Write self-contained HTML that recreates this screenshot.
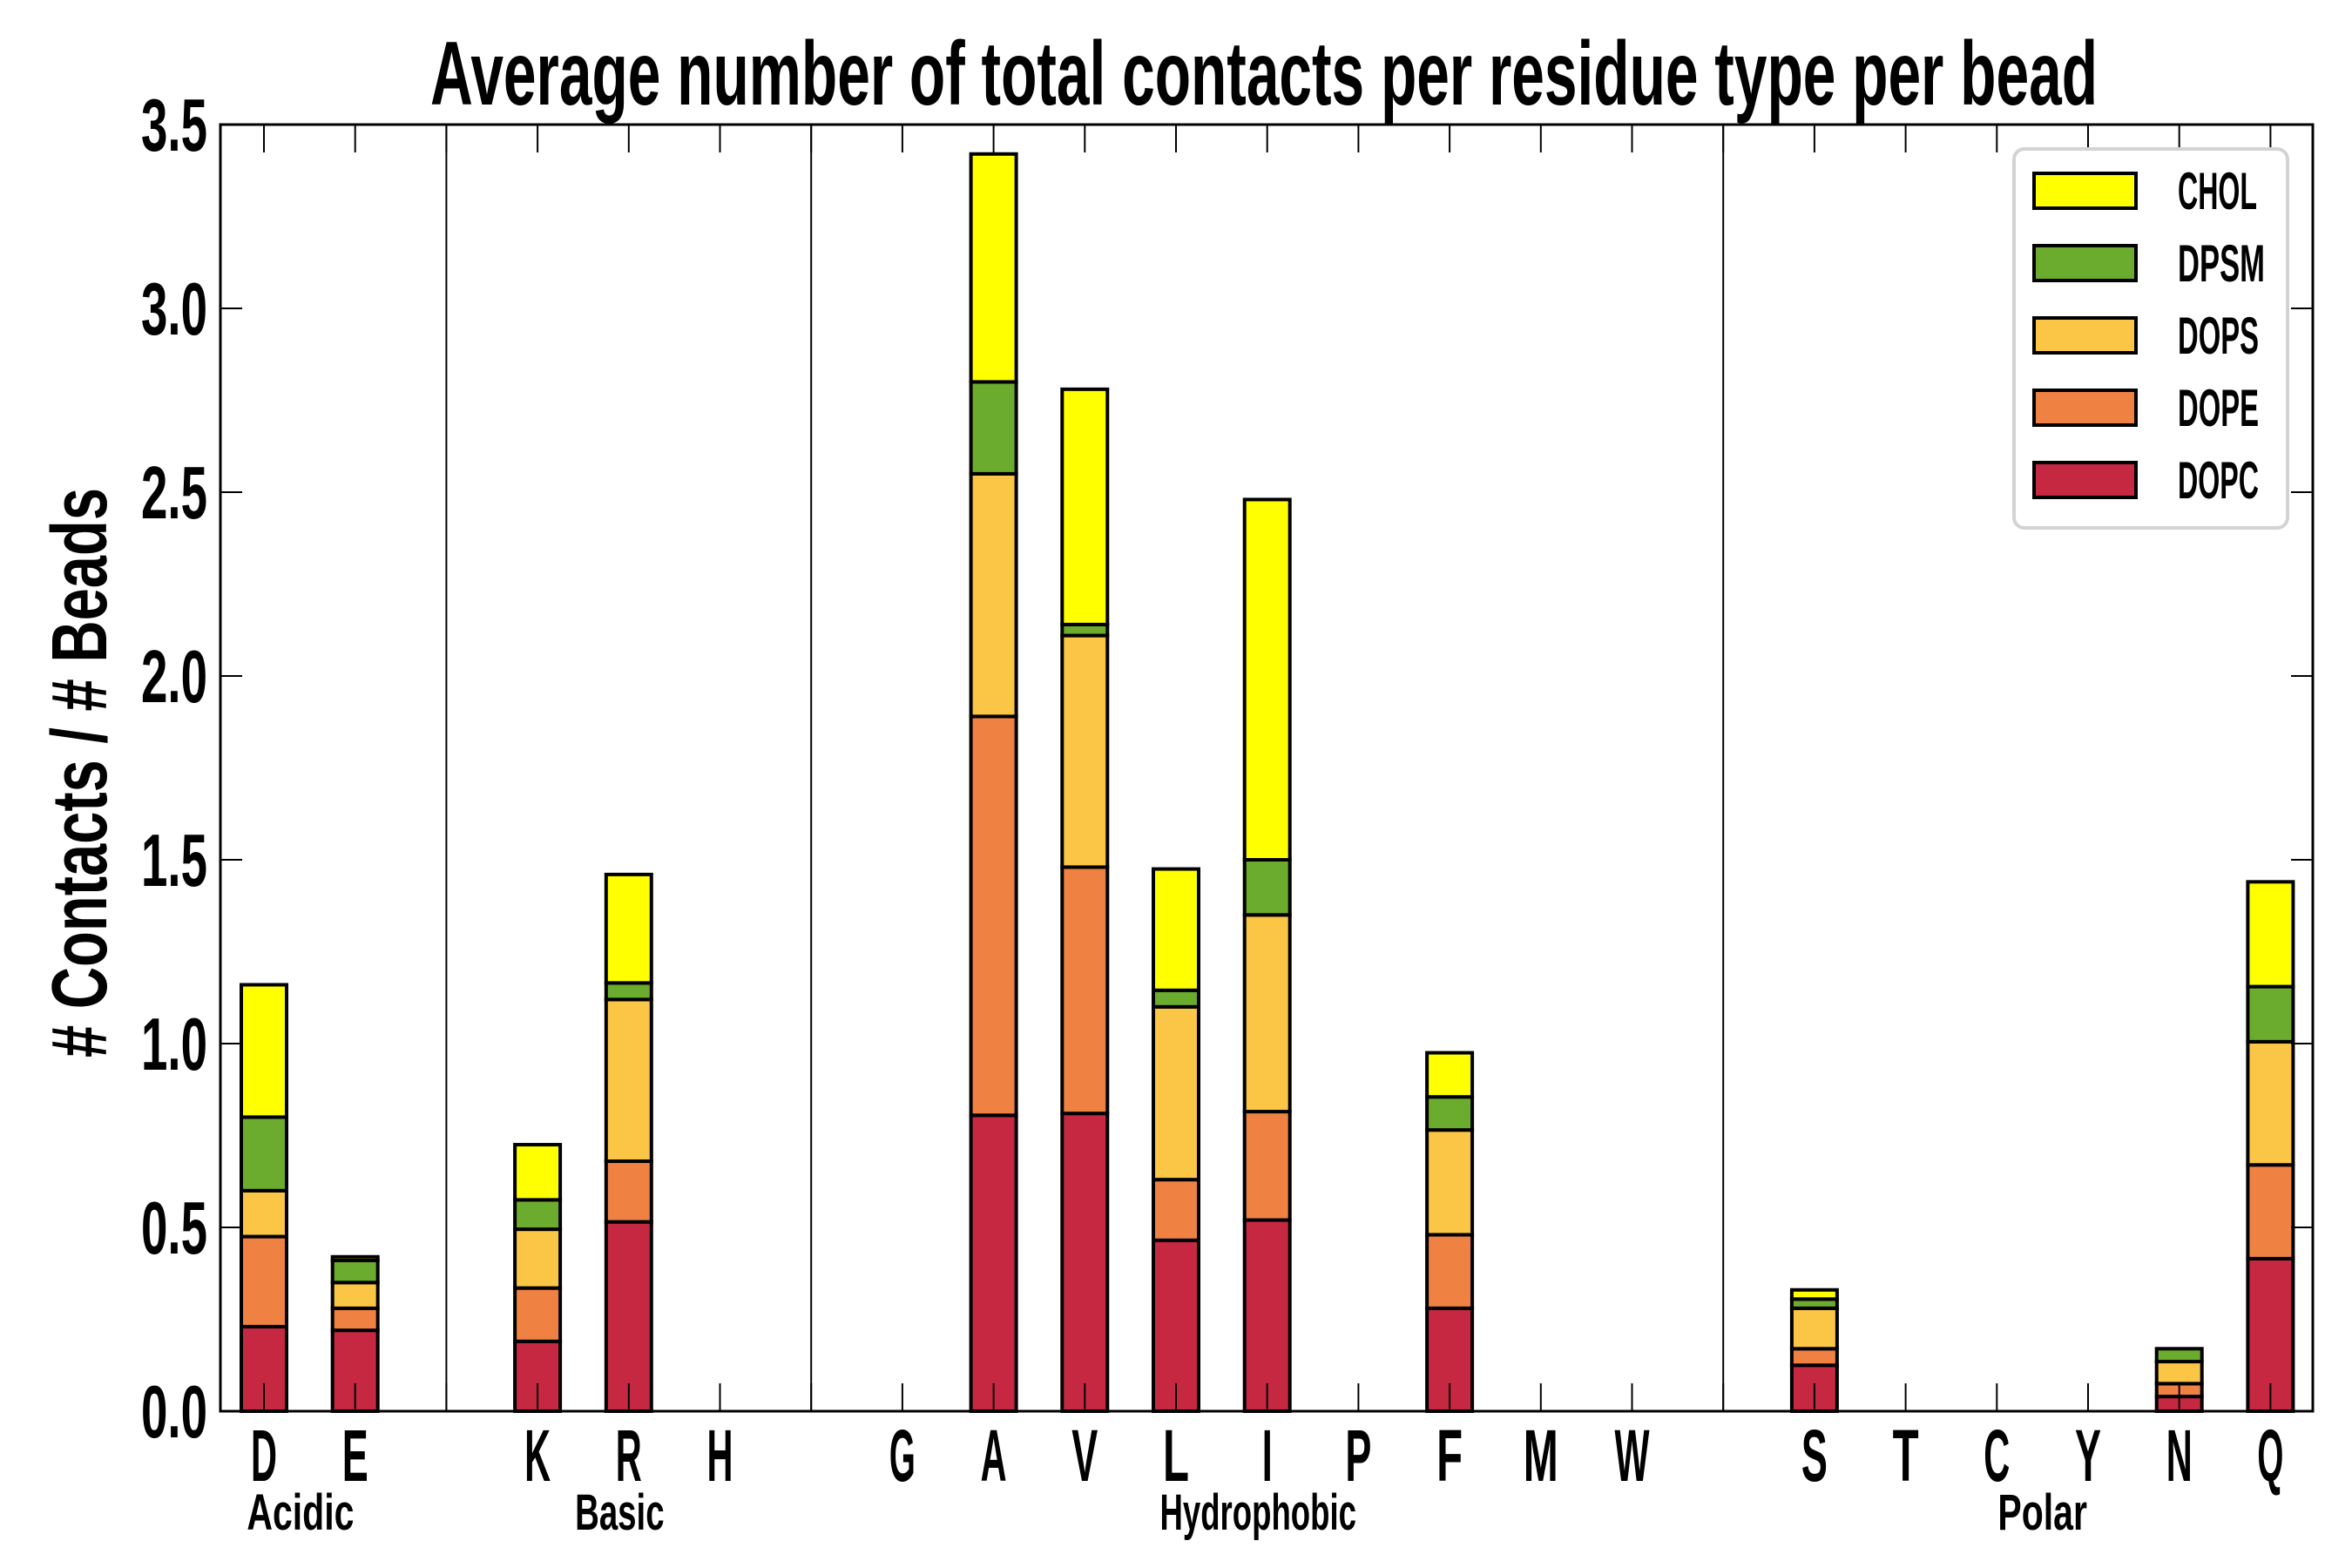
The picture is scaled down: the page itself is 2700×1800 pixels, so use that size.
<!DOCTYPE html>
<html><head><meta charset="utf-8"><style>
html,body{margin:0;padding:0;background:#fff;}
svg{display:block;font-family:"Liberation Sans",sans-serif;font-weight:bold;}
</style></head><body>
<svg id="chart" width="2700" height="1800" viewBox="0 0 2700 1800" xmlns="http://www.w3.org/2000/svg">
<text x="1451" y="120" text-anchor="middle" font-size="104" textLength="1914" lengthAdjust="spacingAndGlyphs">Average number of total contacts per residue type per bead</text>
<text transform="translate(122,887) rotate(-90)" text-anchor="middle" font-size="90" textLength="654" lengthAdjust="spacingAndGlyphs"># Contacts / # Beads</text>
<g id="plot"></g>
<g id="legend"></g>
</svg>
<script>
const categories = ["D","E","","K","R","H","","G","A","V","L","I","P","F","M","W","","S","T","C","Y","N","Q"];
const seriesNames = ["DOPC","DOPE","DOPS","DPSM","CHOL"];
const dopc = [0.23,0.22,0,0.19,0.515,0,0,0,0.805,0.81,0.465,0.52,0,0.28,0,0,0,0.125,0,0,0,0.04,0.415];
const dope = [0.245,0.06,0,0.145,0.165,0,0,0,1.085,0.67,0.165,0.295,0,0.20,0,0,0,0.045,0,0,0,0.035,0.255];
const dops = [0.125,0.07,0,0.16,0.44,0,0,0,0.66,0.63,0.47,0.535,0,0.285,0,0,0,0.11,0,0,0,0.06,0.335];
const dpsm = [0.20,0.06,0,0.08,0.045,0,0,0,0.25,0.03,0.045,0.15,0,0.09,0,0,0,0.025,0,0,0,0.035,0.15];
const chol = [0.36,0.01,0,0.15,0.295,0,0,0,0.62,0.64,0.33,0.98,0,0.12,0,0,0,0.025,0,0,0,0,0.285];
const yTicks = [0,0.5,1.0,1.5,2.0,2.5,3.0,3.5];
const yTickLabels = ["0.0","0.5","1.0","1.5","2.0","2.5","3.0","3.5"];
const groups = ["Acidic","Basic","Hydrophobic","Polar"];
const groupPos = [0.4,3.9,10.9,19.5];
const separators = [2,6,16];

const colors = ["#c62842","#ef8143","#fbc545","#6bab2d","#ffff00"];
const series = [dopc,dope,dops,dpsm,chol];
const L=253,R=2655,T=143,B=1620,yMax=3.5;
const x0=303,step=104.7,barW=52;
const xs=i=>x0+i*step;
const ys=v=>B-(v/yMax)*(B-T);
const NS="http://www.w3.org/2000/svg";
const plot=document.getElementById('plot');
function mk(tag,attrs,parent){const e=document.createElementNS(NS,tag);for(const k in attrs)e.setAttribute(k,attrs[k]);(parent||plot).appendChild(e);return e;}

separators.forEach(s=>{
  const l=mk('line',{x1:xs(s),x2:xs(s),y1:T,y2:B,stroke:'#000','stroke-width':2});
  
  
});
categories.forEach((c,i)=>{
  let base=0;
  series.forEach((s,k)=>{
    const v=s[i];
    const r=mk('rect',{x:xs(i)-barW/2,y:ys(base+v),width:barW,height:Math.max(0,ys(base)-ys(base+v)),fill:colors[k],stroke:'#000','stroke-width':(v>0?4:1.5)});
    
    
    base+=v;
  });
});
categories.forEach((c,i)=>{
  const t1=mk('line',{x1:xs(i),x2:xs(i),y1:T,y2:T+32,stroke:'#000','stroke-width':2});
  
  
  const t2=mk('line',{x1:xs(i),x2:xs(i),y1:B,y2:B-32,stroke:'#000','stroke-width':2});
  
  
  if(c){
    const t=mk('text',{x:xs(i),y:1700,'text-anchor':'middle','font-size':84,textLength:(c==='M'||c==='W')?40:(c==='I'?12:30),lengthAdjust:'spacingAndGlyphs'});
    t.textContent=c;
    
    
  }
});
groups.forEach((g,i)=>{
  const t=mk('text',{x:xs(groupPos[i]),y:1756,'text-anchor':'middle','font-size':58,textLength:g.length*20.5,lengthAdjust:'spacingAndGlyphs'});
  t.textContent=g;
  
  
});
yTicks.forEach((v,i)=>{
  const a=mk('line',{x1:L,x2:L+25,y1:ys(v),y2:ys(v),stroke:'#000','stroke-width':2});
  
  
  const b=mk('line',{x1:R,x2:R-25,y1:ys(v),y2:ys(v),stroke:'#000','stroke-width':2});
  
  
  const t=mk('text',{x:238,y:ys(v)+30,'text-anchor':'end','font-size':85,textLength:76,lengthAdjust:'spacingAndGlyphs'});
  t.textContent=yTickLabels[i];
  
  
});
const fr=mk('rect',{x:L,y:T,width:R-L,height:B-T,fill:'none',stroke:'#000','stroke-width':3});



const lg=document.getElementById('legend');
const box=mk('rect',{x:2312,y:171,width:314,height:435,rx:12,fill:'#fff',stroke:'#d3d3d3','stroke-width':4},lg);


const order=[4,3,2,1,0];
order.forEach((k,j)=>{
  const cy=219+j*83;
  const p=mk('rect',{x:2335,y:cy-20,width:117,height:40,fill:colors[k],stroke:'#000','stroke-width':4},lg);
  
  
  const t=mk('text',{x:2500,y:cy+21,'font-size':60,textLength:seriesNames[k]==='DPSM'?100:(seriesNames[k]==='CHOL'?91:93),lengthAdjust:'spacingAndGlyphs'},lg);
  t.textContent=seriesNames[k];
  
  
});
</script>
</body></html>
